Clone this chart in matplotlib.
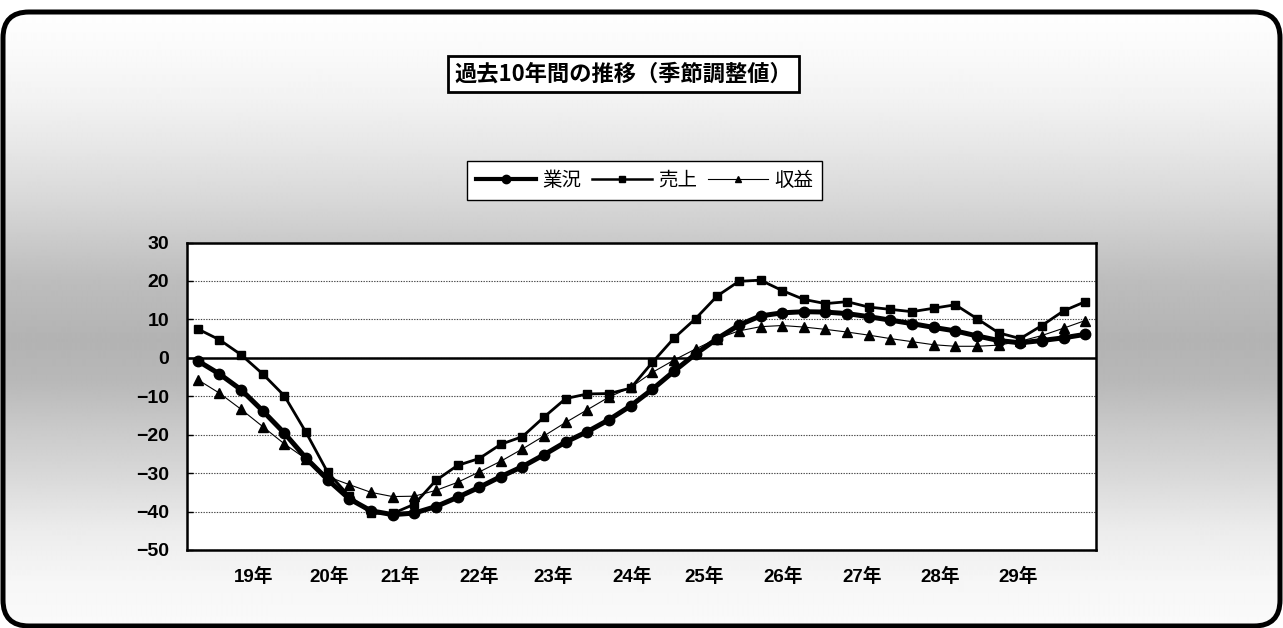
import numpy as np
import matplotlib.pyplot as plt
from matplotlib.patches import FancyBboxPatch
from matplotlib.lines import Line2D

W, H, DPI = 1283, 628, 100

# Year labels along the bottom and the three seasonally adjusted DI series
years = ['19年', '20年', '21年', '22年', '23年', '24年',
         '25年', '26年', '27年', '28年', '29年']

gyokyo = [-0.8, -4.2, -8.3, -13.8, -19.6, -26.1, -31.7, -36.7, -39.8, -40.8,
          -40.4, -38.7, -36.3, -33.7, -30.9, -28.3, -25.2, -21.9, -19.2, -16.1,
          -12.5, -8.2, -3.5, 1.0, 5.0, 8.5, 10.9, 11.7, 12.0, 11.9,
          11.5, 10.7, 9.8, 8.9, 7.9, 7.0, 5.7, 4.5, 3.9, 4.5,
          5.2, 6.1]

uriage = [7.5, 4.7, 0.8, -4.2, -9.9, -19.4, -29.8, -36.0, -40.4, -40.5,
          -38.1, -31.9, -28.0, -26.2, -22.5, -20.5, -15.4, -10.6, -9.4, -9.3,
          -7.9, -1.2, 5.1, 10.2, 16.1, 19.9, 20.2, 17.5, 15.2, 14.1,
          14.6, 13.2, 12.6, 12.0, 12.9, 13.8, 10.2, 6.5, 5.0, 8.4,
          12.2, 14.6]

shueki = [-5.7, -9.2, -13.4, -17.9, -22.4, -26.3, -30.9, -33.0, -35.0, -36.1,
          -36.0, -34.5, -32.4, -29.7, -26.9, -23.7, -20.3, -16.8, -13.5, -10.2,
          -7.7, -3.8, -0.6, 2.3, 5.0, 7.0, 8.1, 8.4, 8.0, 7.4,
          6.7, 5.9, 5.0, 4.2, 3.4, 3.0, 3.0, 3.3, 4.3, 5.8,
          7.7, 9.7]

series_names = ['業況', '売上', '収益']
y_ticks = [30, 20, 10, 0, -10, -20, -30, -40, -50]

# where the year labels sit, in units of the point index
year_label_pos = [2.58, 6.05, 9.37, 13.01, 16.43, 20.07,
                  23.40, 27.04, 30.69, 34.29, 37.89]

CJK = 'Noto Sans CJK JP'
LAT = 'Liberation Sans'

fig = plt.figure(figsize=(W / DPI, H / DPI), dpi=DPI)
fig.patch.set_facecolor('white')

# ---- background panel: vertical grey gradient inside a rounded frame ----
bg = fig.add_axes([0, 0, 1, 1], zorder=-5)
bg.set_xlim(0, W)
bg.set_ylim(H, 0)
bg.axis('off')

stops_y = [0, 15, 50, 100, 150, 200, 280, 340, 380, 430, 480, 530, 580, 628]
stops_v = [255, 254, 250, 242, 230, 216, 189, 179, 184, 202, 218, 236, 246, 250]
rows = np.interp(np.arange(H), stops_y, stops_v) / 255.0
grad = np.repeat(rows[:, None], 4, axis=1)
img = bg.imshow(grad, cmap='gray', vmin=0, vmax=1, aspect='auto',
                extent=[0, W, H, 0], interpolation='bilinear')

frame = FancyBboxPatch((3, 12), W - 6, 614,
                       boxstyle='round,pad=0,rounding_size=26',
                       fc='none', ec='black', lw=3.6)
bg.add_patch(frame)
img.set_clip_path(frame)

# ---- main plot ----
ax = fig.add_axes([187 / W, 1 - 550 / H, (1096 - 187) / W, (550 - 242.5) / H])
ax.set_facecolor('white')

x = np.arange(len(gyokyo))

ax.plot(x, gyokyo, color='black', lw=3.6, marker='o', ms=7.5, zorder=5)
ax.plot(x, uriage, color='black', lw=2.0, marker='s', ms=6, zorder=4)
ax.plot(x, shueki, color='black', lw=0.8, marker='^', ms=6.5, zorder=3)

ax.set_xlim(-0.5, len(gyokyo) - 0.5)
ax.set_ylim(-50, 30)
ax.set_yticks(y_ticks)
ax.set_yticklabels([f'{v}'.replace('-', '\u2212') for v in y_ticks],
                   fontfamily=LAT, fontweight='bold', fontsize=14)
ax.tick_params(axis='y', direction='in', length=4, width=1, pad=13)

ax.set_xticks(year_label_pos)
ax.set_xticklabels(years, fontfamily=[LAT, CJK], fontweight='bold', fontsize=13.5)
ax.tick_params(axis='x', length=0, pad=13)

ax.yaxis.grid(True, linestyle=(0, (1.2, 1.2)), color='#444444', lw=0.8)
ax.set_axisbelow(True)
ax.axhline(0, color='black', lw=1.8, zorder=2)
for s in ax.spines.values():
    s.set_linewidth(1.8)
    s.set_color('black')

# ---- legend ----
handles = [
    Line2D([], [], color='black', lw=3.0, marker='o', ms=6),
    Line2D([], [], color='black', lw=1.8, marker='s', ms=4),
    Line2D([], [], color='black', lw=0.8, marker='^', ms=4.5),
]
leg = fig.legend(handles, series_names, loc='center',
                 bbox_to_anchor=(644.5 / W, 1 - 180.5 / H),
                 ncol=3, frameon=True, fancybox=False, shadow=False,
                 handlelength=3.1, handletextpad=0.3, columnspacing=0.55,
                 borderpad=0.45, prop={'family': CJK, 'size': 14})
leg.get_frame().set_edgecolor('black')
leg.get_frame().set_linewidth(1.0)
leg.get_frame().set_facecolor('white')
leg.get_frame().set_alpha(1)

# ---- title ----
fig.text(623.5 / W, 1 - 74 / H, '過去10年間の推移（季節調整値）',
         ha='center', va='center', fontfamily=CJK, fontweight='bold',
         fontsize=16, style='italic',
         bbox=dict(boxstyle='square,pad=0.3', fc='white', ec='black', lw=2))

fig.savefig('out.png', dpi=DPI)
